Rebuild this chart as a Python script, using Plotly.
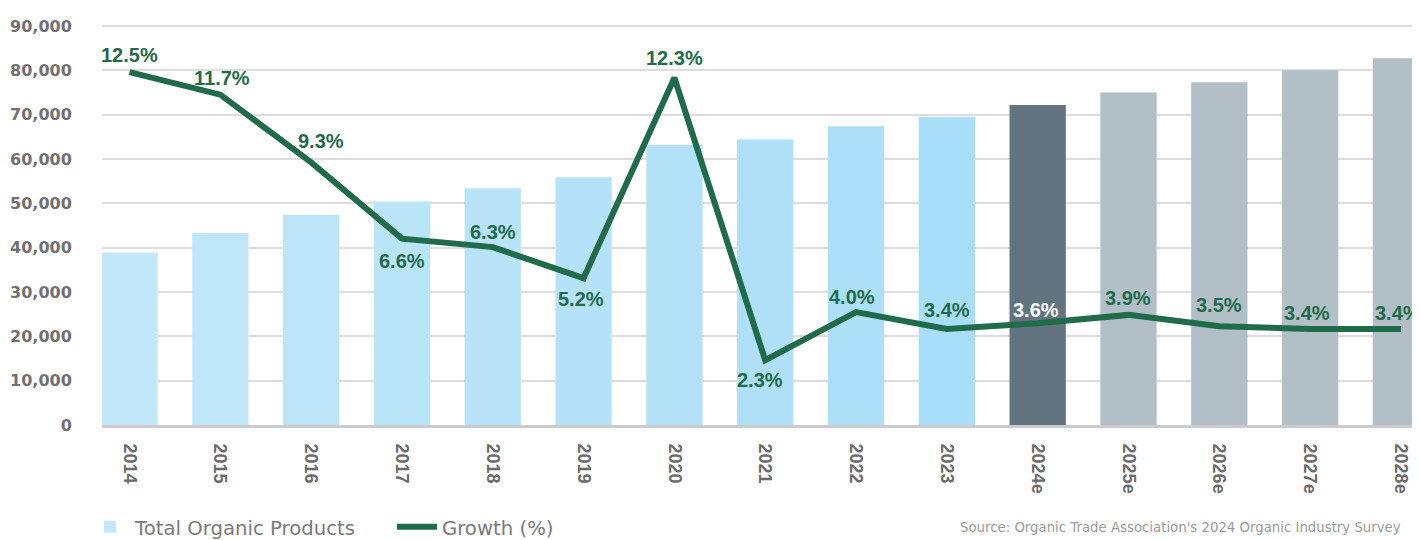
import plotly.graph_objects as go

years = ["2014", "2015", "2016", "2017", "2018", "2019", "2020", "2021", "2022", "2023",
         "2024e", "2025e", "2026e", "2027e", "2028e"]
total_organic = [38900, 43300, 47400, 50400, 53400, 55900, 63200, 64400, 67400, 69500,
                 72200, 75000, 77300, 80000, 82700]
growth_pct = [12.5, 11.7, 9.3, 6.6, 6.3, 5.2, 12.3, 2.3, 4.0, 3.4, 3.6, 3.9, 3.5, 3.4, 3.4]
growth_labels = ["12.5%", "11.7%", "9.3%", "6.6%", "6.3%", "5.2%", "12.3%", "2.3%", "4.0%",
                 "3.4%", "3.6%", "3.9%", "3.5%", "3.4%", "3.4%"]

# label styling (offsets in px from the line point)
label_dy = [17, 17, 21, -22, 15, -21, 20, -20, 15, 19, 13, 17, 21, 16, 16]
label_dx = [0, 2, 10, 0, 0, -3, 0, -5, -4, 0, -2, 0, 0, -3, -3]
bar_colors = ["#c1e7f9", "#bfe6f9", "#bde5f9", "#bae4f8", "#b8e3f8", "#b5e2f8", "#b3e1f8",
              "#b0e0f8", "#addff8", "#a9def9", "#62747f", "#b2bfc7", "#b2bfc7", "#b2bfc7",
              "#b2bfc7"]
label_colors = ["#1f6b4a"] * 10 + ["#ffffff"] + ["#1f6b4a"] * 4

GREEN = "#1f6b4a"

fig = go.Figure()
fig.add_trace(go.Bar(
    x=years, y=total_organic, name="Total Organic Products",
    marker=dict(color=bar_colors, line=dict(width=0)),
    width=0.62, yaxis="y",
))
fig.add_trace(go.Scatter(
    x=years, y=growth_pct, name="Growth (%)", mode="lines",
    line=dict(color=GREEN, width=6),
    yaxis="y2", cliponaxis=False,
))

annotations = []
for i, (g, lab, dy, dx, col) in enumerate(zip(growth_pct, growth_labels, label_dy, label_dx,
                                              label_colors)):
    annotations.append(dict(
        x=i, y=g, xref="x", yref="y2", text=lab, showarrow=False,
        xanchor="center", yanchor="middle", yshift=dy, xshift=dx,
        font=dict(family="Liberation Sans", size=20, color=col, weight="bold"),
    ))
annotations.append(dict(
    text="Source: Organic Trade Association's 2024 Organic Industry Survey",
    xref="paper", yref="paper", x=(950 - 94) / 1318, y=-(519 - 417) / 417,
    xanchor="left", yanchor="middle", showarrow=False,
    font=dict(family="DejaVu Sans", size=13.3, color="#9a9a9a"),
))

fig.update_layout(
    width=1412, height=532,
    margin=dict(l=94, r=0, t=0, b=115),
    plot_bgcolor="white", paper_bgcolor="white",
    showlegend=True,
    legend=dict(
        orientation="h", xref="container", yref="container",
        x=0.0545, y=0.0244, xanchor="left", yanchor="middle",
        font=dict(family="DejaVu Sans", size=19.7, color="#7a7a7a"),
        entrywidth=252, entrywidthmode="pixels", itemwidth=40,
        traceorder="normal",
    ),
    xaxis=dict(
        type="category", range=[-0.303, 14.21],
        tickangle=90, ticks="outside", ticklen=12, tickcolor="rgba(0,0,0,0)",
        tickfont=dict(family="Liberation Sans", size=18, color="#6a6a6a", weight="bold"),
        showline=True, linecolor="#cbcbcb", linewidth=3,
        showgrid=False,
    ),
    yaxis=dict(
        range=[0, 94060], dtick=10000, tickformat=",",
        showgrid=True, gridcolor="#dddddd", gridwidth=2,
        zeroline=False,
        ticks="outside", ticklen=26, tickcolor="rgba(0,0,0,0)",
        tickfont=dict(family="DejaVu Sans", size=16, color="#707070", weight="bold"),
    ),
    yaxis2=dict(
        range=[0, 14.77], overlaying="y", side="right", visible=False,
        showgrid=False, zeroline=False,
    ),
    annotations=annotations,
)

fig.write_html("out.html")
